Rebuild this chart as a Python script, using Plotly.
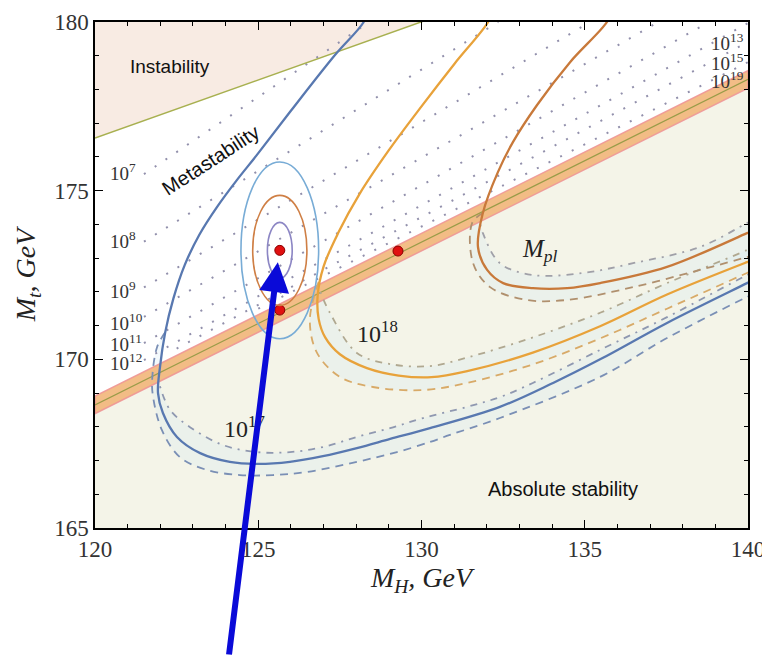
import plotly.graph_objects as go

# ---------------- data ----------------
# Instability boundary (green line)
inst_mh = [120.0, 130.0, 131.0]
inst_mt = [176.56, 180.0, 180.35]

# Absolute-stability boundary band (center line + half width)
band_mh = [120.0, 140.0]
band_mt = [168.65, 178.30]
band_half = 0.26

# Iso-lifetime (instability scale) dotted lines: start/end points
iso_exp = [7, 8, 9, 10, 11, 12, 13, 15]
iso_mh0 = [121.5, 121.5, 121.5, 121.5, 121.5, 121.5, 122.5, 125.0]
iso_mt0 = [175.49, 173.49, 172.13, 171.26, 170.48, 169.98, 170.32, 171.50]
iso_mh1 = [128.4, 132.35, 135.16, 137.25, 138.8, 140.0, 140.0, 140.0]
iso_mt1 = [180.0, 180.0, 180.0, 180.0, 180.0, 179.97, 179.41, 178.81]

# Labels of the iso lines
lab_left = ["10<sup>7</sup>", "10<sup>8</sup>", "10<sup>9</sup>", "10<sup>10</sup>",
            "10<sup>11</sup>", "10<sup>12</sup>"]
lab_left_mh = [120.4, 120.4, 120.4, 120.4, 120.4, 120.4]
lab_left_mt = [175.55, 173.54, 172.05, 171.11, 170.48, 169.92]
lab_right = ["10<sup>13</sup>", "10<sup>15</sup>", "10<sup>19</sup>"]
lab_right_mh = [139.95, 139.95, 139.95]
lab_right_mt = [179.41, 178.81, 178.28]

# 10^17 family (blue)
b_sol_mh = [128.35, 128.21, 127.35, 125.97, 124.96, 124.35, 123.74, 123.2, 122.75, 122.4, 122.15,
            121.99, 121.93, 122.08, 122.51, 123.22, 124.13, 124.96, 125.97, 126.98, 128.02,
            129.04, 130.26, 132.40, 134.03, 135.47, 137.52, 139.97, 140.3]
b_sol_mt = [180.3, 179.97, 179.02, 177.33, 176.06, 175.32, 174.52, 173.7, 172.8, 171.8, 170.8,
            169.77, 169.00, 168.41, 167.70, 167.22, 166.96, 166.90, 166.96, 167.13, 167.37,
            167.64, 167.96, 168.59, 169.30, 170.0, 171.08, 172.26, 172.42]
b_dsh_mh = [122.15, 121.90, 121.75, 121.78, 122.05, 122.60, 123.43, 124.44, 125.45, 126.49,
            128.02, 129.25, 130.26, 130.87, 132.40, 135.47, 137.52, 139.97, 140.3]
b_dsh_mt = [170.8, 170.36, 169.39, 168.88, 167.90, 167.10, 166.72, 166.57, 166.57, 166.66,
            166.96, 167.25, 167.55, 167.76, 168.26, 169.48, 170.63, 171.85, 172.0]
b_dd_mh = [121.99, 122.30, 122.91, 123.92, 124.96, 125.97, 126.98, 128.02, 129.04, 130.05,
           131.39, 132.40, 133.41, 135.47, 137.52, 139.97, 140.3]
b_dd_mt = [169.20, 168.50, 167.99, 167.46, 167.25, 167.25, 167.40, 167.70, 167.96, 168.26,
           168.59, 168.88, 169.30, 170.28, 171.25, 172.50, 172.66]

# 10^18 family (orange)
o_sol_mh = [132.15, 132.04, 131.0, 130.0, 129.0, 128.1, 127.45, 127.0, 126.82, 126.85,
            127.05, 127.5, 128.33, 129.3, 130.3, 131.4, 133.41, 135.47, 137.52, 139.97, 140.3]
o_sol_mt = [180.3, 180.0, 178.75, 177.5, 176.2, 174.9, 173.75, 172.75, 171.9, 171.2,
            170.65, 170.15, 169.74, 169.52, 169.47, 169.65, 170.20, 170.98, 171.92, 172.88, 173.0]
o_dsh_mh = [126.85, 126.58, 126.80, 127.50, 128.51, 130.05, 131.39, 133.41, 135.47, 137.52,
            139.97, 140.3]
o_dsh_mt = [172.3, 171.17, 170.19, 169.48, 169.18, 169.09, 169.30, 169.85, 170.62, 171.50,
            172.56, 172.7]
o_dd_mh = [126.9, 127.20, 128.02, 129.04, 130.26, 131.39, 133.41, 135.47, 137.52, 139.97, 140.3]
o_dd_mt = [172.0, 171.37, 170.19, 169.86, 169.80, 170.05, 170.65, 171.38, 172.26, 173.24, 173.4]

# Planck-scale family (brown)
p_sol_mh = [135.8, 135.68, 134.55, 133.54, 132.80, 132.34, 131.88, 131.73, 132.01, 132.50,
            133.41, 134.46, 135.47, 137.52, 139.97, 140.3]
p_sol_mt = [180.3, 180.0, 178.81, 177.54, 176.44, 175.55, 174.34, 173.33, 172.65, 172.26,
            172.11, 172.11, 172.26, 172.74, 173.74, 173.88]
p_dsh_mh = [131.88, 131.55, 131.58, 132.10, 133.23, 134.46, 136.48, 138.53, 139.97, 140.3]
p_dsh_mt = [174.34, 174.04, 172.85, 172.14, 171.76, 171.76, 172.14, 172.65, 173.03, 173.12]
p_dd_mh = [131.80, 131.88, 132.40, 133.41, 134.95, 136.48, 138.53, 139.97, 140.3]
p_dd_mt = [174.0, 173.74, 172.85, 172.50, 172.56, 172.85, 173.33, 174.04, 174.2]

# Experimental point and confidence ellipses
ell_c = (125.66, 173.23)
ell_a = [0.38, 0.83, 1.19]
ell_b = [0.83, 1.63, 2.62]
ell_col = ["#8c86c4", "#cf7f45", "#78acd6"]

pts_mh = [125.66, 125.66, 129.28]
pts_mt = [173.23, 171.46, 173.21]

# Arrow target
arrow_tip = (125.60, 172.88)

# ---------------- figure ----------------
fig = go.Figure()

# region fills
fig.add_trace(go.Scatter(x=[120, inst_mh[0], inst_mh[1], 120], y=[180, inst_mt[0], inst_mt[1], 180],
                         fill="toself", fillcolor="#f8ebe3", line=dict(width=0),
                         mode="lines", hoverinfo="skip", showlegend=False))
fig.add_trace(go.Scatter(x=[120, band_mh[0], band_mh[1], 140, 120],
                         y=[165, band_mt[0], band_mt[1], 165, 165],
                         fill="toself", fillcolor="#f4f4e8", line=dict(width=0),
                         mode="lines", hoverinfo="skip", showlegend=False))

# faint uncertainty tint between dash-dot and dashed curves of each family
for dd_x, dd_y, ds_x, ds_y in [(b_dd_mh, b_dd_mt, b_dsh_mh, b_dsh_mt),
                               (o_dd_mh, o_dd_mt, o_dsh_mh, o_dsh_mt),
                               (p_dd_mh, p_dd_mt, p_dsh_mh, p_dsh_mt)]:
    fig.add_trace(go.Scatter(x=list(dd_x) + list(ds_x)[::-1], y=list(dd_y) + list(ds_y)[::-1],
                             fill="toself", fillcolor="rgba(212,232,246,0.28)", line=dict(width=0),
                             line_shape="spline",
                             mode="lines", hoverinfo="skip", showlegend=False))

# dotted iso lines
for i in range(len(iso_exp)):
    fig.add_trace(go.Scatter(x=[iso_mh0[i], iso_mh1[i]], y=[iso_mt0[i], iso_mt1[i]],
                             mode="lines", line=dict(color="#9290ac", width=2, dash="2px,11px"),
                             hoverinfo="skip", showlegend=False))

# stability band
up = [m + band_half for m in band_mt]
lo = [m - band_half for m in band_mt]
fig.add_trace(go.Scatter(x=[band_mh[0], band_mh[1], band_mh[1], band_mh[0], band_mh[0]],
                         y=[up[0], up[1], lo[1], lo[0], up[0]],
                         fill="toself", fillcolor="rgba(242,182,122,0.9)",
                         line=dict(color="rgba(238,150,150,0.9)", width=1.5),
                         mode="lines", hoverinfo="skip", showlegend=False))
fig.add_trace(go.Scatter(x=band_mh, y=band_mt, mode="lines",
                         line=dict(color="#9a9c48", width=1.2), hoverinfo="skip", showlegend=False))

# instability boundary
fig.add_trace(go.Scatter(x=inst_mh, y=inst_mt, mode="lines",
                         line=dict(color="#a8b050", width=1.5), hoverinfo="skip", showlegend=False))


def fam(mh_s, mt_s, mh_d, mt_d, mh_dd, mt_dd, col, col_d, col_dd):
    fig.add_trace(go.Scatter(x=mh_dd, y=mt_dd, mode="lines", line_shape="spline",
                             line=dict(color=col_dd, width=1.8, dash="2px,6px,7px,6px"),
                             hoverinfo="skip", showlegend=False))
    fig.add_trace(go.Scatter(x=mh_d, y=mt_d, mode="lines", line_shape="spline",
                             line=dict(color=col_d, width=1.8, dash="8px,6px"),
                             hoverinfo="skip", showlegend=False))
    fig.add_trace(go.Scatter(x=mh_s, y=mt_s, mode="lines", line_shape="spline",
                             line=dict(color=col, width=2.3),
                             hoverinfo="skip", showlegend=False))


fam(b_sol_mh, b_sol_mt, b_dsh_mh, b_dsh_mt, b_dd_mh, b_dd_mt, "#5878b0", "#7a8fb5", "#8f98b0")
fam(o_sol_mh, o_sol_mt, o_dsh_mh, o_dsh_mt, o_dd_mh, o_dd_mt, "#e8a23a", "#d8aa68", "#b0a890")
fam(p_sol_mh, p_sol_mt, p_dsh_mh, p_dsh_mt, p_dd_mh, p_dd_mt, "#c8793a", "#b0906e", "#a0a0a8")

# ellipses
shapes = []
for a, b, c in zip(ell_a, ell_b, ell_col):
    shapes.append(dict(type="circle", xref="x", yref="y",
                       x0=ell_c[0] - a, x1=ell_c[0] + a, y0=ell_c[1] - b, y1=ell_c[1] + b,
                       line=dict(color=c, width=1.6), layer="above"))

# red points
fig.add_trace(go.Scatter(x=pts_mh, y=pts_mt, mode="markers",
                         marker=dict(color="#e01010", size=10, symbol="circle",
                                     line=dict(color="#8a0000", width=1)),
                         hoverinfo="skip", showlegend=False))

ann = []
serif = "Liberation Serif"
for t, x, y in zip(lab_left, lab_left_mh, lab_left_mt):
    ann.append(dict(x=x, y=y, text=t, showarrow=False, xanchor="left",
                    font=dict(family=serif, size=19, color="#333")))
for t, x, y in zip(lab_right, lab_right_mh, lab_right_mt):
    ann.append(dict(x=x, y=y, text=t, showarrow=False, xanchor="right",
                    font=dict(family=serif, size=19, color="#333")))
ann.append(dict(x=128.64, y=170.81, text="10<sup>18</sup>", showarrow=False,
                font=dict(family=serif, size=24, color="#222")))
ann.append(dict(x=124.59, y=167.99, text="10<sup>17</sup>", showarrow=False,
                font=dict(family=serif, size=24, color="#222")))
ann.append(dict(x=133.63, y=173.24, text="<i>M<sub>pl</sub></i>", showarrow=False,
                font=dict(family=serif, size=25, color="#222")))
sans = "Liberation Sans"
ann.append(dict(x=122.30, y=178.67, text="Instability", showarrow=False,
                font=dict(family=sans, size=19, color="#111")))
ann.append(dict(x=123.55, y=175.91, text="Metastability", showarrow=False, textangle=-33,
                font=dict(family=sans, size=20, color="#111")))
ann.append(dict(x=134.33, y=166.15, text="Absolute stability", showarrow=False,
                font=dict(family=sans, size=20, color="#111")))
# blue arrow
ann.append(dict(x=arrow_tip[0], y=arrow_tip[1], ax=-49, ay=394, text="", showarrow=True,
                arrowhead=2, arrowsize=1.0, arrowwidth=6, arrowcolor="#0a0ad8", standoff=0))

axis_common = dict(showline=True, linecolor="black", linewidth=1.5, mirror="ticks",
                   ticks="inside", ticklen=8, tickcolor="black", showgrid=False, zeroline=False,
                   automargin=False,
                   tickfont=dict(family=serif, size=23, color="#333"),
                   minor=dict(ticks="inside", ticklen=4, dtick=1, tickcolor="black", showgrid=False))

fig.update_layout(
    width=762, height=648,
    margin=dict(l=87, r=22, t=14, b=128),
    paper_bgcolor="white", plot_bgcolor="white",
    shapes=shapes, annotations=ann,
    xaxis=dict(range=[120, 140], dtick=5, tick0=120,
               title=dict(text="<i>M<sub>H</sub>, GeV</i>", font=dict(family=serif, size=28, color="#222"),
                          standoff=6),
               **axis_common),
    yaxis=dict(range=[165, 180], dtick=5, tick0=165,
               title=dict(text="<i>M<sub>t</sub>, GeV</i>", font=dict(family=serif, size=28, color="#222"),
                          standoff=10),
               **axis_common),
)

fig.write_html("out.html")
